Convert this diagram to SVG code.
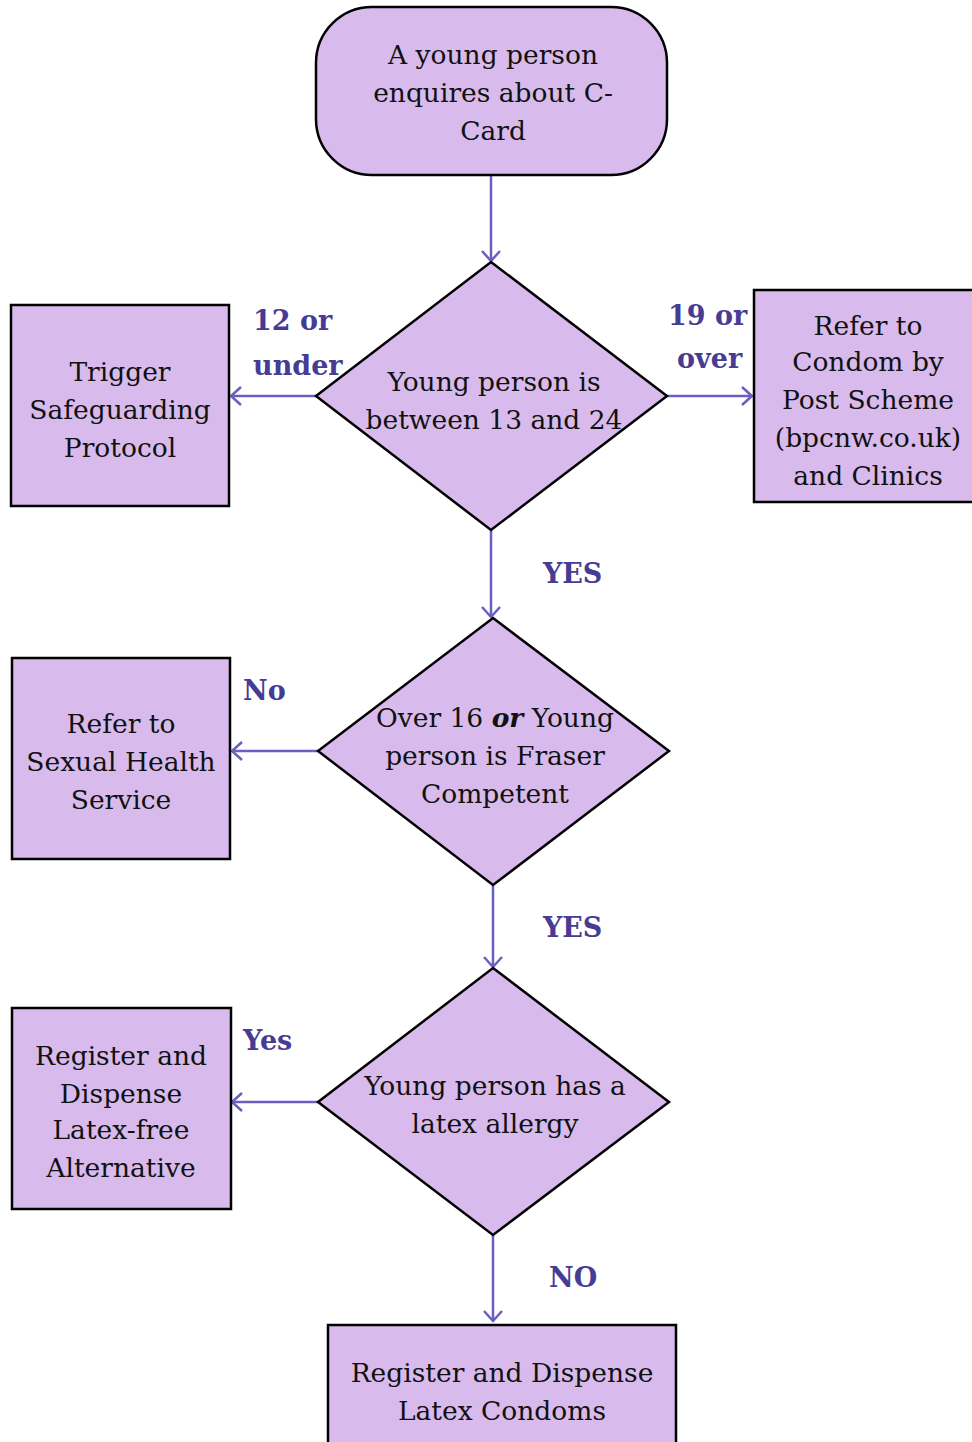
<svg xmlns="http://www.w3.org/2000/svg" width="972" height="1442" viewBox="0 0 972 1442">
<defs>
<style>
.n{fill:#D8BBEC;stroke:#000;stroke-width:2.5}
.t{font-family:"DejaVu Serif","Liberation Serif",serif;font-size:26.5px;fill:#111;text-anchor:middle}
.l{font-family:"DejaVu Serif","Liberation Serif",serif;font-size:27px;font-weight:bold;fill:#463C94}
.c{stroke:#6A5FC1;stroke-width:2.5;fill:none}
</style>
<marker id="a" markerWidth="24" markerHeight="24" viewBox="-12 -12 24 24" refX="0" refY="0" orient="auto" markerUnits="userSpaceOnUse">
<path d="M-10,-9 L0,0 L-10,9" fill="none" stroke="#6A5FC1" stroke-width="2.5"/>
</marker>
</defs>
<rect width="972" height="1442" fill="#fff"/>
<g id="connectors">
<line class="c" x1="491" y1="175" x2="491" y2="261" marker-end="url(#a)"/>
<line class="c" x1="316" y1="396" x2="231" y2="396" marker-end="url(#a)"/>
<line class="c" x1="667" y1="396" x2="752" y2="396" marker-end="url(#a)"/>
<line class="c" x1="491" y1="530" x2="491" y2="617" marker-end="url(#a)"/>
<line class="c" x1="318" y1="751" x2="232" y2="751" marker-end="url(#a)"/>
<line class="c" x1="493" y1="885" x2="493" y2="967" marker-end="url(#a)"/>
<line class="c" x1="318" y1="1102" x2="232" y2="1102" marker-end="url(#a)"/>
<line class="c" x1="493" y1="1235" x2="493" y2="1321" marker-end="url(#a)"/>
<text class="l" x="253" y="330">12 or</text>
<text class="l" x="253" y="375">under</text>
<text class="l" x="668" y="325">19 or</text>
<text class="l" x="677" y="368">over</text>
<text class="l" x="543" y="583">YES</text>
<text class="l" x="243" y="700">No</text>
<text class="l" x="543" y="937">YES</text>
<text class="l" x="243" y="1050">Yes</text>
<text class="l" x="549" y="1287">NO</text>
</g>
<g id="start">
<rect class="n" x="316" y="7" width="351" height="168" rx="56"/>
<text class="t" x="493" y="64">A young person</text>
<text class="t" x="493" y="102">enquires about C-</text>
<text class="t" x="493" y="140">Card</text>
</g>
<g id="age">
<polygon class="n" points="491,262 667,396 491,530 316,396"/>
<text class="t" x="494" y="391">Young person is</text>
<text class="t" x="494" y="429">between 13 and 24</text>
</g>
<g id="safeguard">
<rect class="n" x="11" y="305" width="218" height="201"/>
<text class="t" x="120" y="381">Trigger</text>
<text class="t" x="120" y="419">Safeguarding</text>
<text class="t" x="120" y="457">Protocol</text>
</g>
<g id="post">
<rect class="n" x="754" y="290" width="222" height="212"/>
<text class="t" x="868" y="335">Refer to</text>
<text class="t" x="868" y="371">Condom by</text>
<text class="t" x="868" y="409">Post Scheme</text>
<text class="t" x="868" y="447">(bpcnw.co.uk)</text>
<text class="t" x="868" y="485">and Clinics</text>
</g>
<g id="fraser">
<polygon class="n" points="493,618 669,751 493,885 318,751"/>
<text class="t" x="495" y="727">Over 16 <tspan font-weight="bold" font-style="italic">or</tspan> Young</text>
<text class="t" x="495" y="765">person is Fraser</text>
<text class="t" x="495" y="803">Competent</text>
</g>
<g id="sexual">
<rect class="n" x="12" y="658" width="218" height="201"/>
<text class="t" x="121" y="733">Refer to</text>
<text class="t" x="121" y="771">Sexual Health</text>
<text class="t" x="121" y="809">Service</text>
</g>
<g id="allergy">
<polygon class="n" points="493,968 669,1102 493,1235 318,1102"/>
<text class="t" x="495" y="1095">Young person has a</text>
<text class="t" x="495" y="1133">latex allergy</text>
</g>
<g id="latexfree">
<rect class="n" x="12" y="1008" width="219" height="201"/>
<text class="t" x="121" y="1065">Register and</text>
<text class="t" x="121" y="1103">Dispense</text>
<text class="t" x="121" y="1139">Latex-free</text>
<text class="t" x="121" y="1177">Alternative</text>
</g>
<g id="latex">
<rect class="n" x="328" y="1325" width="348" height="130"/>
<text class="t" x="502" y="1382">Register and Dispense</text>
<text class="t" x="502" y="1420">Latex Condoms</text>
</g>
</svg>
